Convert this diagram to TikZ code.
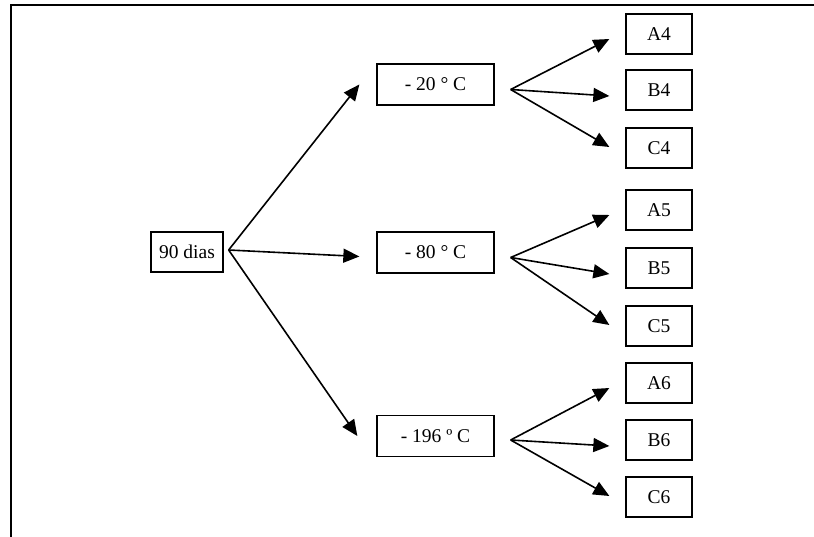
\documentclass[tikz,border=0pt]{standalone}
\usepackage{fontspec}
\setmainfont{Liberation Serif}
\usetikzlibrary{arrows.meta}
\begin{document}
\begin{tikzpicture}[x=1pt,y=-1pt,
  box/.style={draw, line width=1.3pt, inner sep=0pt, font=\fontsize{19.5}{22}\selectfont},
  midbox/.style={box, minimum width=117pt, minimum height=41pt},
  leaf/.style={box, minimum width=66pt, minimum height=40pt},
  arr/.style={line width=1.6pt, -{Triangle[length=16pt,width=14pt]}},
  frame/.style={line width=2pt}]
\useasboundingbox (0,0) rectangle (814,537);
% page frame (top and left rules only)
\draw[frame] (11,537) -- (11,5) -- (814,5);

% root
\node[box, minimum width=72pt, minimum height=40pt] (d90) at (187,252) {90 dias};

% temperatures
\node[midbox] (t20)  at (435.5,84.5)  {- 20 ° C};
\node[midbox] (t80)  at (435.5,252.5) {- 80 ° C};
\node[midbox] (t196) at (435.5,436)   {- 196 º C};

% samples
\node[leaf] (A4) at (659,34)  {A4};
\node[leaf] (B4) at (659,90)  {B4};
\node[leaf] (C4) at (659,148) {C4};
\node[leaf] (A5) at (659,210) {A5};
\node[leaf] (B5) at (659,268) {B5};
\node[leaf] (C5) at (659,326) {C5};
\node[leaf] (A6) at (659,383) {A6};
\node[leaf] (B6) at (659,440) {B6};
\node[leaf] (C6) at (659,497) {C6};

% fan-out points (shifts are in page units: negative yshift goes down)
\coordinate (o0)   at ([xshift=5pt,yshift=2pt]d90.east);
\coordinate (o20)  at ([xshift=16pt,yshift=-5pt]t20.east);
\coordinate (o80)  at ([xshift=16pt,yshift=-5pt]t80.east);
\coordinate (o196) at ([xshift=16pt,yshift=-4pt]t196.east);

% root to temperatures
\draw[arr] (o0) -- ([xshift=-17pt]t20.west);
\draw[arr] (o0) -- ([xshift=-17pt,yshift=-4pt]t80.west);
\draw[arr] (o0) -- ([xshift=-19pt]t196.west);

% temperatures to samples
\foreach \t/\n in {20/4, 80/5, 196/6}{
  \draw[arr] (o\t) -- ([xshift=-16pt,yshift=-5pt]A\n.west);
  \draw[arr] (o\t) -- ([xshift=-16pt,yshift=-6pt]B\n.west);
  \draw[arr] (o\t) -- ([xshift=-16pt,yshift=1pt]C\n.west);
}
\end{tikzpicture}
\end{document}
